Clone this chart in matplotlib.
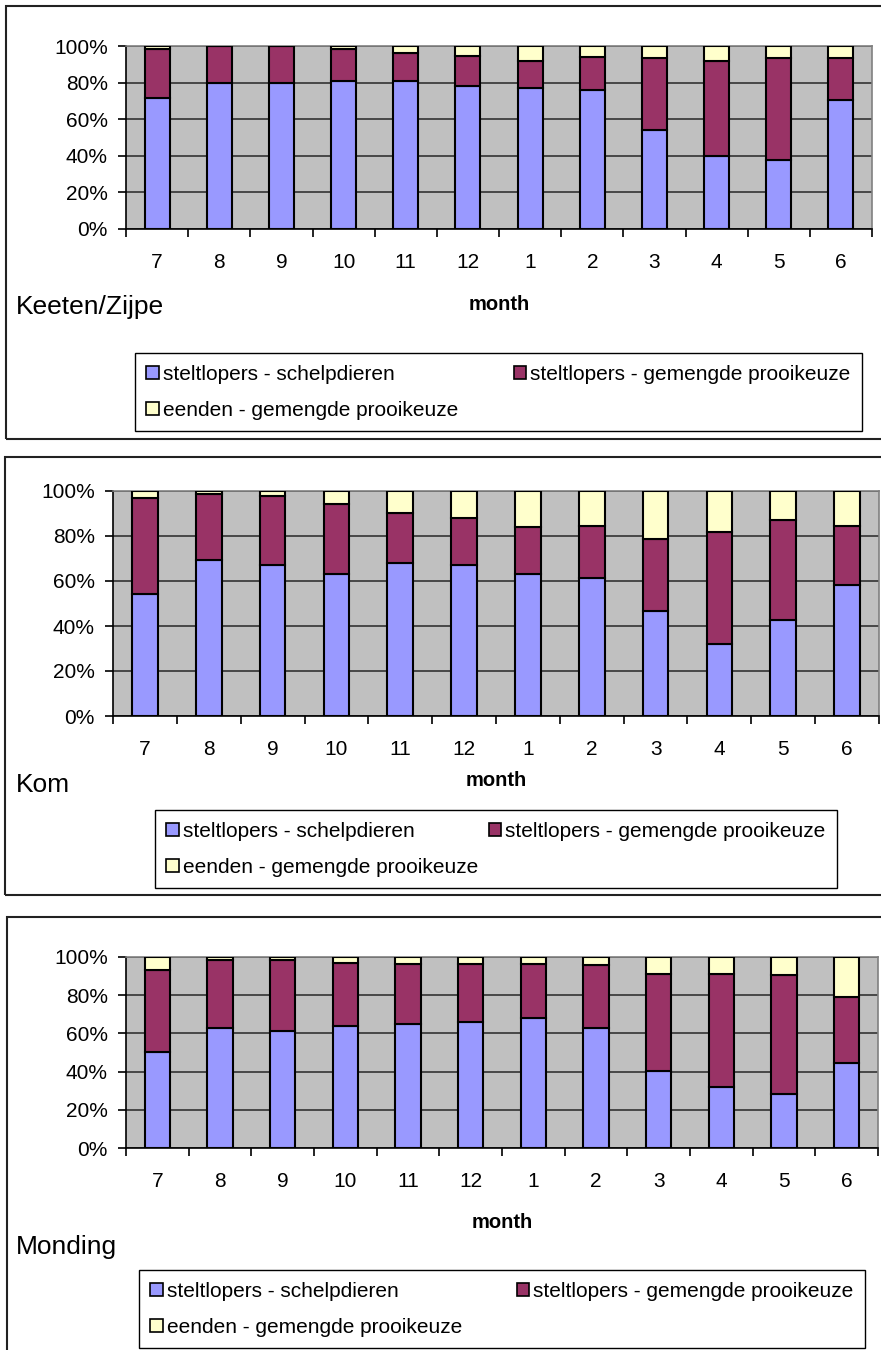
import numpy as np
import matplotlib
matplotlib.use("Agg")
import matplotlib.pyplot as plt
from matplotlib.patches import Rectangle, Patch

# --- data: share of each predator group per month (percent) ---------------
months = ["7", "8", "9", "10", "11", "12", "1", "2", "3", "4", "5", "6"]
series_names = [
    "steltlopers - schelpdieren",
    "steltlopers - gemengde prooikeuze",
    "eenden - gemengde prooikeuze",
]
series_colors = ["#9999FF", "#993366", "#FFFFCC"]

keeten_schelp = [71.5, 80.0, 80.0, 81.0, 81.0, 78.0, 77.0, 76.0, 54.0, 40.0, 37.7, 70.5]
keeten_gemengd = [27.0, 20.0, 20.0, 17.5, 15.0, 16.5, 15.0, 18.2, 39.3, 52.0, 55.6, 22.8]
keeten_eenden = [1.5, 0.0, 0.0, 1.5, 4.0, 5.5, 8.0, 5.8, 6.7, 8.0, 6.7, 6.7]

kom_schelp = [54.4, 69.2, 67.0, 63.0, 68.0, 67.0, 63.0, 61.3, 46.7, 32.2, 42.5, 58.0]
kom_gemengd = [42.6, 29.6, 30.6, 31.0, 22.0, 21.0, 21.0, 23.0, 32.1, 49.6, 44.8, 26.3]
kom_eenden = [3.0, 1.2, 2.4, 6.0, 10.0, 12.0, 16.0, 15.7, 21.2, 18.2, 12.7, 15.7]

monding_schelp = [50.3, 63.0, 61.3, 64.0, 65.0, 66.0, 68.0, 63.0, 40.3, 32.0, 28.5, 44.5]
monding_gemengd = [43.1, 35.6, 37.3, 33.0, 31.5, 30.5, 28.5, 32.7, 51.0, 59.3, 61.9, 34.5]
monding_eenden = [6.6, 1.4, 1.4, 3.0, 3.5, 3.5, 3.5, 4.3, 8.7, 8.7, 9.6, 21.0]

# --- page setup (positions in pixels from the top-left corner) -------------
W, H = 881, 1350
fig = plt.figure(figsize=(W / 100, H / 100), dpi=100)
FONT = "Liberation Sans"


def fx(x):
    return x / W


def fy(y):
    return 1 - y / H


panels = [
    dict(name="Keeten/Zijpe", series=[keeten_schelp, keeten_gemengd, keeten_eenden],
         frame=(6, 6, 439), plot=(126, 46, 872, 229),
         month_y=305, name_y=307, legend=(135, 349, 862, 431)),
    dict(name="Kom", series=[kom_schelp, kom_gemengd, kom_eenden],
         frame=(5, 457, 895), plot=(113, 491, 879, 716),
         month_y=781, name_y=785, legend=(155, 813, 837, 888)),
    dict(name="Monding", series=[monding_schelp, monding_gemengd, monding_eenden],
         frame=(7, 917, 1400), plot=(126, 957, 878, 1148),
         month_y=1222, name_y=1247, legend=(139, 1266, 865, 1348)),
]

x = np.arange(len(months))

for p in panels:
    # outer chart frame (right side runs off the page)
    fl, ft, fb = p["frame"]
    fig.add_artist(Rectangle((fx(fl), fy(fb)), fx(W + 40 - fl), fy(ft) - fy(fb),
                             transform=fig.transFigure, facecolor="none",
                             edgecolor="#222222", linewidth=1.5))

    l, t, r, b = p["plot"]
    ax = fig.add_axes([fx(l), fy(b), fx(r - l), fy(t) - fy(b)])
    ax.set_facecolor("#C0C0C0")

    bottom = np.zeros(len(months))
    for vals, color in zip(p["series"], series_colors):
        ax.bar(x, vals, 0.4, bottom=bottom, color=color, edgecolor="black",
               linewidth=1.5, zorder=3)
        bottom += np.array(vals)

    ax.set_xlim(-0.5, len(months) - 0.5)
    ax.set_ylim(0, 100)

    ax.set_yticks(np.arange(0, 101, 20))
    ax.set_yticklabels([f"{v}%" for v in range(0, 101, 20)],
                       family=FONT, fontsize=15)
    ax.set_xticks(np.arange(-0.5, len(months), 1))
    ax.set_xticklabels([])
    ax.set_xticks(x, minor=True)
    ax.set_xticklabels(months, minor=True, family=FONT, fontsize=15)

    ax.tick_params(axis="y", direction="out", length=6, width=1.2, pad=7)
    ax.tick_params(axis="x", which="major", direction="out", length=6, width=1.2)
    ax.tick_params(axis="x", which="minor", length=0, pad=17)

    ax.yaxis.grid(True, color="#333333", linewidth=1.2)
    ax.set_axisbelow(True)
    for side in ("left", "bottom"):
        ax.spines[side].set_color("black")
        ax.spines[side].set_linewidth(1.2)
    for side in ("top", "right"):
        ax.spines[side].set_color("#808080")
        ax.spines[side].set_linewidth(1.2)

    fig.text(fx((l + r) / 2), fy(p["month_y"]), "month", ha="center", va="center",
             fontsize=14.5, fontweight="bold", family=FONT)
    fig.text(fx(16), fy(p["name_y"]), p["name"], ha="left", va="center",
             fontsize=19, family=FONT)

    # legend: row 1 holds both wader series, row 2 the ducks
    handles = [Patch(facecolor=c, edgecolor="black", linewidth=1.2) for c in series_colors]
    order = [0, 2, 1]
    ll, lt, lr, lb = p["legend"]
    leg = fig.legend([handles[i] for i in order], [series_names[i] for i in order],
                     loc="lower left", ncol=2, mode="expand",
                     bbox_to_anchor=(fx(ll), fy(lb), fx(lr - ll), fy(lt) - fy(lb)),
                     borderaxespad=0, frameon=True, fancybox=False, framealpha=1,
                     edgecolor="black", borderpad=0.55, labelspacing=0.8,
                     handlelength=0.6, handleheight=0.6, handletextpad=0.2,
                     prop=dict(family=FONT, size=15))
    leg.get_frame().set_linewidth(1.0)

fig.savefig("out.png", dpi=100)
